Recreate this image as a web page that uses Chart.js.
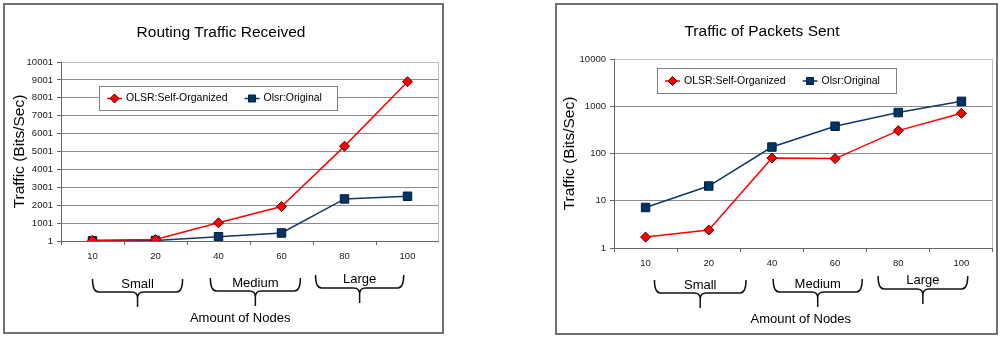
<!DOCTYPE html>
<html>
<head>
<meta charset="utf-8">
<script src="https://cdn.jsdelivr.net/npm/chart.js@4/dist/chart.umd.min.js"></script>
<style>
  body { margin: 0; background: #fff; width: 1000px; height: 338px; position: relative; overflow: hidden; }
  .frame { position: absolute; box-sizing: border-box; border: 2px solid #707070; background: #fff; }
  canvas { position: absolute; }
</style>
</head>
<body>
<div class="frame" style="left:3px; top:3px; width:441px; height:331px;"></div>
<div class="frame" style="left:555px; top:3px; width:443px; height:332px;"></div>
<canvas id="routingChart" style="left:3px; top:5px;" width="436" height="327"></canvas>
<canvas id="packetsChart" style="left:531px; top:5px;" width="462" height="328"></canvas>
<script>
// Values
const nodeCounts = ['10', '20', '40', '60', '80', '100'];
const groupLabels = ['Small', 'Medium', 'Large'];
const seriesNames = ['OLSR:Self-Organized', 'Olsr:Original'];

const routingSelfOrg = [40, 80, 1020, 1930, 5300, 8900];
const routingOriginal = [10, 30, 240, 450, 2350, 2500];
const routingTicks = [1, 1001, 2001, 3001, 4001, 5001, 6001, 7001, 8001, 9001, 10001];

const packetsSelfOrg = [1.7, 2.4, 80, 78, 305, 710];
const packetsOriginal = [7.2, 20.5, 137, 377, 735, 1270];
const packetsTicks = [1, 10, 100, 1000, 10000];

const FONT = "'Liberation Sans', Arial, sans-serif";
Chart.defaults.font.family = FONT;
Chart.defaults.color = '#222';

// draw the little marker shapes used in the legend box
function legendMarker(ctx, ds, x, y) {
  ctx.fillStyle = ds.pointBackgroundColor;
  ctx.strokeStyle = ds.pointBorderColor;
  ctx.lineWidth = 1;
  ctx.beginPath();
  if (ds.pointStyle === 'rectRot') {
    const r = 4.5;
    ctx.moveTo(x - r, y); ctx.lineTo(x, y - r); ctx.lineTo(x + r, y); ctx.lineTo(x, y + r);
  } else {
    const s = 3.5;
    ctx.rect(x - s, y - s, 2 * s, 2 * s);
  }
  ctx.closePath();
  ctx.fill();
  ctx.stroke();
}

// legend box inside the plot, group braces and the x axis caption
const decorPlugin = {
  id: 'decor',
  beforeDatasetsDraw(chart) {
    const { ctx, chartArea: a } = chart;
    ctx.save();
    ctx.strokeStyle = '#c0c0c0';
    ctx.lineWidth = 1;
    ctx.beginPath();
    ctx.moveTo(a.right - 0.5, a.top);
    ctx.lineTo(a.right - 0.5, a.bottom);
    ctx.stroke();
    ctx.restore();
  },
  afterDatasetsDraw(chart, args, opts) {
    const { ctx, chartArea: a } = chart;
    const box = opts.legend;
    const bx = a.left + box.dx, by = a.top + box.dy;
    ctx.save();
    ctx.fillStyle = '#fff';
    ctx.fillRect(bx, by, box.w, box.h);
    ctx.strokeStyle = '#808080';
    ctx.lineWidth = 1;
    ctx.strokeRect(bx + 0.5, by + 0.5, box.w, box.h);
    ctx.font = '10.5px ' + FONT;
    ctx.textBaseline = 'middle';
    const cy = by + box.h / 2 + 0.5;
    let cx = bx + 8;
    chart.data.datasets.forEach(ds => {
      ctx.strokeStyle = ds.borderColor;
      ctx.lineWidth = ds.borderWidth;
      ctx.beginPath();
      ctx.moveTo(cx, cy);
      ctx.lineTo(cx + 15, cy);
      ctx.stroke();
      legendMarker(ctx, ds, cx + 7.5, cy);
      ctx.fillStyle = '#000';
      ctx.fillText(ds.label, cx + 19, cy);
      cx += 19 + ctx.measureText(ds.label).width + 17;
    });

    // braces under the category axis
    const xs = chart.scales.x;
    const x0px = xs.getPixelForValue(0);
    const step = xs.getPixelForValue(1) - x0px;
    const H = chart.height;
    ctx.strokeStyle = '#111';
    ctx.lineWidth = 1.5;
    ctx.fillStyle = '#000';
    ctx.font = '13px ' + FONT;
    ctx.textAlign = 'center';
    groupLabels.forEach((label, i) => {
      const g = opts.braces[i];
      const x0 = x0px + g.from * step;
      const x1 = x0px + g.to * step;
      const xm = (x0 + x1) / 2;
      const yTop = H - 53 + g.dy, yLine = H - 40 + g.dy, yTip = H - 25 + g.dy;
      const r = 6;
      ctx.beginPath();
      ctx.moveTo(x0, yTop);
      ctx.quadraticCurveTo(x0, yLine, x0 + r, yLine);
      ctx.lineTo(xm - r, yLine);
      ctx.quadraticCurveTo(xm, yLine, xm, yLine + r);
      ctx.lineTo(xm, yTip);
      ctx.moveTo(xm, yLine + r);
      ctx.quadraticCurveTo(xm, yLine, xm + r, yLine);
      ctx.lineTo(x1 - r, yLine);
      ctx.quadraticCurveTo(x1, yLine, x1, yTop);
      ctx.stroke();
      ctx.fillText(label, xm, H - 48 + g.dy + (g.labelDy || 0));
    });
    ctx.fillText('Amount of Nodes', a.left + opts.captionPos * (a.right - a.left), H - 14);
    ctx.restore();
  }
};

function seriesStyle(name, values, isSelfOrg) {
  return isSelfOrg ? {
    label: name, data: values,
    borderColor: '#ff0000', borderWidth: 1.5,
    pointStyle: 'rectRot', pointRadius: 5, pointBorderWidth: 1,
    pointBackgroundColor: '#ff0000', pointBorderColor: '#400000',
    tension: 0
  } : {
    label: name, data: values,
    borderColor: '#0f3767', borderWidth: 1.5,
    pointStyle: 'rect', pointRadius: 6, pointBorderWidth: 1,
    pointBackgroundColor: '#003366', pointBorderColor: '#001f3f',
    tension: 0
  };
}

function buildChart(id, cfg) {
  return new Chart(document.getElementById(id), {
    type: 'line',
    data: {
      labels: nodeCounts,
      datasets: [
        seriesStyle(seriesNames[0], cfg.selfOrg, true),
        seriesStyle(seriesNames[1], cfg.original, false)
      ]
    },
    plugins: [decorPlugin],
    options: {
      responsive: false,
      animation: false,
      devicePixelRatio: 1,
      layout: { padding: 0, autoPadding: false },
      plugins: {
        legend: { display: false },
        tooltip: { enabled: false },
        title: {
          display: true,
          text: cfg.title,
          color: '#000',
          font: { size: 15.5, weight: 'normal' },
          padding: cfg.titlePadding
        },
        decor: cfg.decor
      },
      scales: {
        x: {
          type: 'category',
          offset: true,
          afterFit: s => { s.height = cfg.xHeight; s.paddingLeft = 0; s.paddingRight = 0; },
          grid: { offset: true, drawOnChartArea: false, tickLength: 4, color: '#666' },
          border: { color: '#666', width: 1 },
          ticks: { font: { size: 9.5 }, padding: 5.3, color: '#1a1a1a' }
        },
        y: {
          type: cfg.yType,
          min: cfg.ticks[0],
          max: cfg.ticks[cfg.ticks.length - 1],
          afterFit: s => { s.width = cfg.yWidth; },
          afterBuildTicks: s => { s.ticks = cfg.ticks.map(v => ({ value: v })); },
          grid: {
            color: c => (c.tick && c.tick.value === cfg.ticks[cfg.ticks.length - 1]) ? '#c0c0c0' : '#8a8a8a',
            tickColor: '#666',
            tickLength: 4
          },
          border: { color: '#666', width: 1 },
          ticks: { font: { size: 9.5 }, padding: 4, color: '#1a1a1a', callback: v => String(v) },
          title: {
            display: true,
            text: 'Traffic (Bits/Sec)',
            color: '#000',
            font: { size: 15.5 },
            padding: { top: cfg.yTitleOffset, bottom: 0 }
          }
        }
      }
    }
  });
}

buildChart('routingChart', {
  title: 'Routing Traffic Received',
  selfOrg: routingSelfOrg,
  original: routingOriginal,
  ticks: routingTicks,
  yType: 'linear',
  titlePadding: { top: 18.7, bottom: 19.7 },
  xHeight: 91,
  yWidth: 58,
  yTitleOffset: 7.7,
  decor: {
    legend: { dx: 38, dy: 24, w: 238, h: 24 },
    braces: [
      { from: 0, to: 1.43, dy: 0 },
      { from: 1.87, to: 3.30, dy: -1 },
      { from: 3.54, to: 4.94, dy: -4, labelDy: -1 }
    ],
    captionPos: 0.474
  }
});

buildChart('packetsChart', {
  title: 'Traffic of Packets Sent',
  selfOrg: packetsSelfOrg,
  original: packetsOriginal,
  ticks: packetsTicks,
  yType: 'logarithmic',
  titlePadding: { top: 17.7, bottom: 17.7 },
  xHeight: 85,
  yWidth: 83,
  yTitleOffset: 29.7,
  decor: {
    legend: { dx: 43, dy: 9, w: 239, h: 25 },
    braces: [
      { from: 0.14, to: 1.59, dy: 0 },
      { from: 2.02, to: 3.43, dy: -1 },
      { from: 3.68, to: 5.1, dy: -4, labelDy: -1 }
    ],
    captionPos: 0.493
  }
});
</script>
</body>
</html>
